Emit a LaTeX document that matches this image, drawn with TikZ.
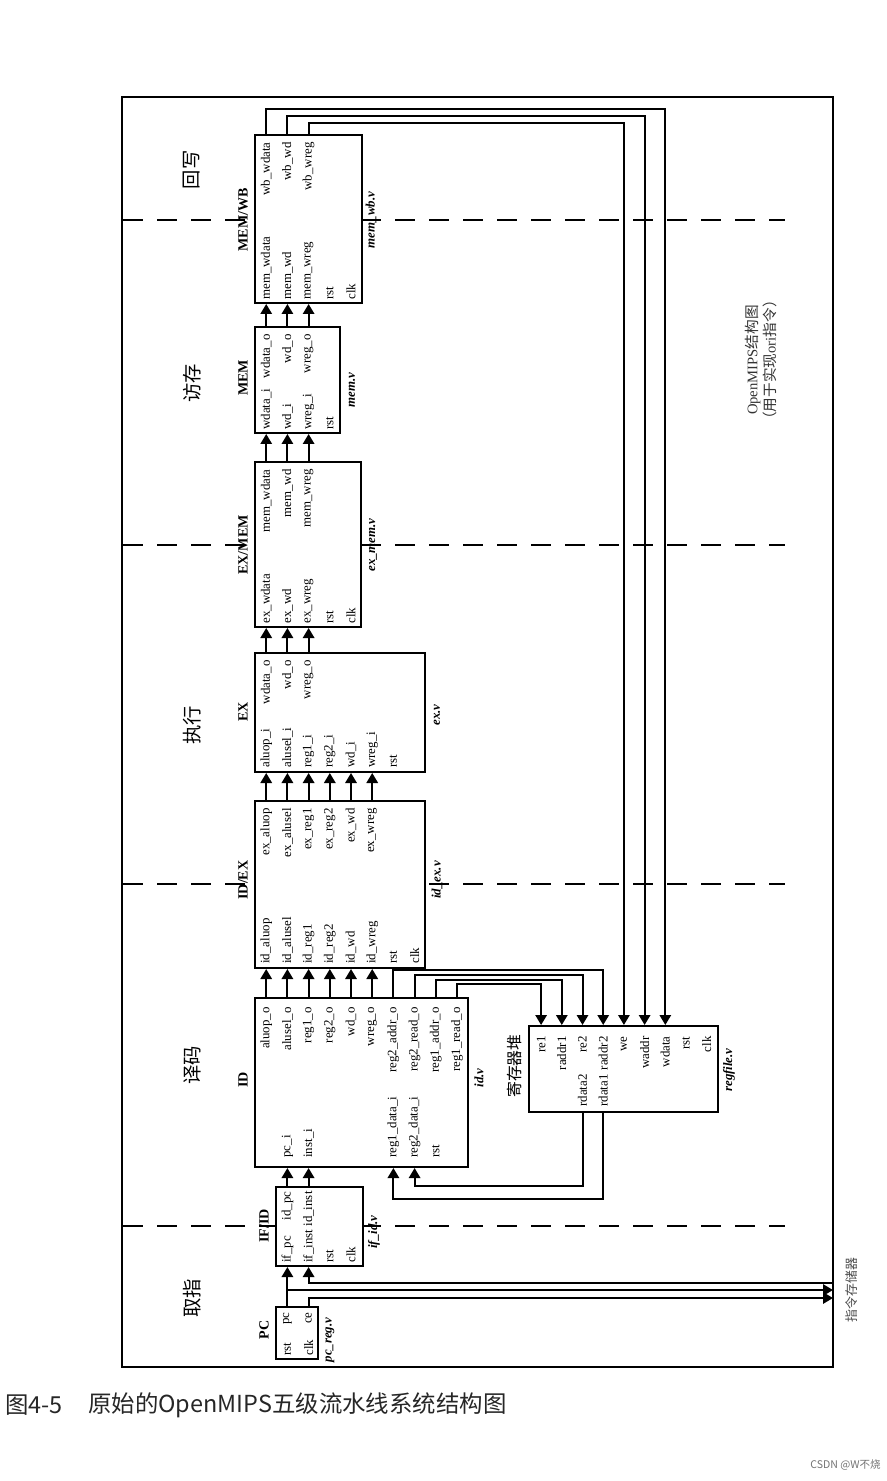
\documentclass[tikz,border=0pt]{standalone}
\usepackage{fontspec}
\setmainfont{Liberation Serif}
\newfontfamily\cjk{Noto Sans CJK SC}
\usetikzlibrary{arrows.meta,fit}

\begin{document}
\begin{tikzpicture}[x=0.3mm, y=-0.3mm,
  blk/.style={draw, line width=1.7pt, fill=white, inner sep=0pt},
  frm/.style={draw, line width=1.6pt, inner sep=0pt},
  wire/.style={line width=1.7pt},
  arr/.style={wire, -{Triangle[length=3mm, width=3.4mm]}},
  stg/.style={line width=1.7pt, dash pattern=on 6mm off 4.2mm},
  port/.style={rotate=90, inner sep=1pt, font=\fontsize{11}{12}\selectfont},
  portin/.style={port, anchor=west},
  portout/.style={port, anchor=east},
  ttl/.style={rotate=90, inner sep=1pt, font=\fontsize{12}{13}\selectfont\bfseries},
  vfile/.style={rotate=90, inner sep=1pt, font=\fontsize{11}{12}\selectfont\bfseries\itshape},
  phasename/.style={rotate=90, font=\cjk\fontsize{16.5}{18}\selectfont}
]
\useasboundingbox (0,0) rectangle (887,1481);
\node[frm, fit={(122,97) (833,1367)}] (frame) {};

% pipeline stage borders
\foreach \y in {220,545,884,1226}
  \draw[stg] (123,\y) -- (785,\y);

\node[phasename] (ph-wb)  at (192,170)  {回写};
\node[phasename] (ph-mem) at (192,383)  {访存};
\node[phasename] (ph-ex)  at (192,725)  {执行};
\node[phasename] (ph-id)  at (192,1065) {译码};
\node[phasename] (ph-if)  at (192,1298) {取指};

% modules
\node[blk, fit={(255,135) (362,303)}]   (memwb) {};
\node[blk, fit={(255,327) (340,433)}]   (mem)   {};
\node[blk, fit={(255,462) (361,627)}]   (exmem) {};
\node[blk, fit={(255,653) (425,772)}]   (ex)    {};
\node[blk, fit={(255,801) (425,968)}]   (idex)  {};
\node[blk, fit={(255,998) (468,1167)}]  (id)    {};
\node[blk, fit={(529,1026) (718,1112)}] (rf)    {};
\node[blk, fit={(276,1187) (363,1266)}] (ifid)  {};
\node[blk, fit={(276,1307) (318,1359)}] (pc)    {};

\node[ttl] (t-memwb) at (243,220)  {MEM/WB};
\node[ttl] (t-mem)   at (243,378)  {MEM};
\node[ttl] (t-exmem) at (243,545)  {EX/MEM};
\node[ttl] (t-ex)    at (243,712)  {EX};
\node[ttl] (t-idex)  at (243,880)  {ID/EX};
\node[ttl] (t-id)    at (243,1080) {ID};
\node[ttl] (t-ifid)  at (264,1226) {IF/ID};
\node[ttl] (t-pc)    at (264,1330) {PC};
\node[phasename, font=\cjk\fontsize{13.5}{15}\selectfont] (t-rf) at (514,1066) {寄存器堆};

\node[vfile] (f-memwb) at (371,220)  {mem\_wb.v};
\node[vfile] (f-mem)   at (352,390)  {mem.v};
\node[vfile] (f-exmem) at (373,545)  {ex\_mem.v};
\node[vfile] (f-ex)    at (437,715)  {ex.v};
\node[vfile] (f-idex)  at (437,880)  {id\_ex.v};
\node[vfile] (f-id)    at (479,1078) {id.v};
\node[vfile] (f-rf)    at (729,1070) {regfile.v};
\node[vfile] (f-ifid)  at (374,1232) {if\_id.v};
\node[vfile] (f-pc)    at (330,1340) {pc\_reg.v};

% ports
\foreach \t [count=\i] in {mem\_wdata, mem\_wd, mem\_wreg, rst, clk}
  \node[portin] (memwb-i\i) at ({245+21.2*\i},301) {\t};
\foreach \t [count=\i] in {wb\_wdata, wb\_wd, wb\_wreg}
  \node[portout] (memwb-o\i) at ({245+21.2*\i},141) {\t};
\foreach \t [count=\i] in {wdata\_i, wd\_i, wreg\_i, rst}
  \node[portin] (mem-i\i) at ({245+21.2*\i},431) {\t};
\foreach \t [count=\i] in {wdata\_o, wd\_o, wreg\_o}
  \node[portout] (mem-o\i) at ({245+21.2*\i},333) {\t};
\foreach \t [count=\i] in {ex\_wdata, ex\_wd, ex\_wreg, rst, clk}
  \node[portin] (exmem-i\i) at ({245+21.2*\i},625) {\t};
\foreach \t [count=\i] in {mem\_wdata, mem\_wd, mem\_wreg}
  \node[portout] (exmem-o\i) at ({245+21.2*\i},468) {\t};
\foreach \t [count=\i] in {aluop\_i, alusel\_i, reg1\_i, reg2\_i, wd\_i, wreg\_i, rst}
  \node[portin] (ex-i\i) at ({245+21.2*\i},769) {\t};
\foreach \t [count=\i] in {wdata\_o, wd\_o, wreg\_o}
  \node[portout] (ex-o\i) at ({245+21.2*\i},659) {\t};
\foreach \t [count=\i] in {id\_aluop, id\_alusel, id\_reg1, id\_reg2, id\_wd, id\_wreg, rst, clk}
  \node[portin] (idex-i\i) at ({245+21.2*\i},965) {\t};
\foreach \t [count=\i] in {ex\_aluop, ex\_alusel, ex\_reg1, ex\_reg2, ex\_wd, ex\_wreg}
  \node[portout] (idex-o\i) at ({245+21.2*\i},807) {\t};
\foreach \t [count=\i] in {aluop\_o, alusel\_o, reg1\_o, reg2\_o, wd\_o, wreg\_o, reg2\_addr\_o, reg2\_read\_o, reg1\_addr\_o, reg1\_read\_o}
  \node[portout] (id-o\i) at ({245+21.2*\i},1006) {\t};
\foreach \t/\c [count=\i] in {pc\_i/2, inst\_i/3, reg1\_data\_i/7, reg2\_data\_i/8, rst/9}
  \node[portin] (id-i\i) at ({245+21.2*\c},1159) {\t};
\foreach \t [count=\i] in {re1, raddr1, re2, raddr2, we, waddr, wdata, rst, clk}
  \node[portout] (rf-i\i) at ({520.4+20.7*\i},1035) {\t};
\foreach \t/\c [count=\i] in {rdata2/3, rdata1/4}
  \node[portin] (rf-o\i) at ({520.4+20.7*\c},1108) {\t};
\foreach \t [count=\i] in {if\_pc, if\_inst, rst, clk}
  \node[portin] (ifid-i\i) at ({266.2+21.2*\i},1264) {\t};
\foreach \t [count=\i] in {id\_pc, id\_inst}
  \node[portout] (ifid-o\i) at ({266.2+21.2*\i},1190) {\t};
\foreach \t [count=\i] in {rst, clk}
  \node[portin] (pc-i\i) at ({266.2+21.2*\i},1357) {\t};
\foreach \t [count=\i] in {pc, ce}
  \node[portout] (pc-o\i) at ({266.2+21.2*\i},1311) {\t};

% pipeline flow
\foreach \i in {1,2,3} {
  \draw[arr] (mem-o\i |- mem.north) -- (mem-o\i |- memwb.south);
  \draw[arr] (exmem-o\i |- exmem.north) -- (exmem-o\i |- mem.south);
  \draw[arr] (ex-o\i |- ex.north) -- (ex-o\i |- exmem.south);
}
\foreach \i in {1,...,6} {
  \draw[arr] (idex-o\i |- idex.north) -- (idex-o\i |- ex.south);
  \draw[arr] (id-o\i |- id.north) -- (id-o\i |- idex.south);
}

% write back to regfile
\draw[arr] (memwb-o1 |- memwb.north) -- ++(0,-25) -| (rf-i7 |- rf.north);
\draw[arr] (memwb-o2 |- memwb.north) -- ++(0,-18) -| (rf-i6 |- rf.north);
\draw[arr] (memwb-o3 |- memwb.north) -- ++(0,-11) -| (rf-i5 |- rf.north);

% register reads
\draw[arr] (id-o7 |- id.north)  -- ++(0,-27) -| (rf-i4 |- rf.north);
\draw[arr] (id-o8 |- id.north)  -- ++(0,-22) -| (rf-i3 |- rf.north);
\draw[arr] (id-o9 |- id.north)  -- ++(0,-17) -| (rf-i2 |- rf.north);
\draw[arr] (id-o10 |- id.north) -- ++(0,-13) -| (rf-i1 |- rf.north);
\draw[arr] (rf-o1 |- rf.south) -- ++(0,73) -| (id-i4 |- id.south);
\draw[arr] (rf-o2 |- rf.south) -- ++(0,86) -| (id-i3 |- id.south);

% fetch
\draw[arr] (ifid-o1 |- ifid.north) -- (ifid-o1 |- id.south);
\draw[arr] (ifid-o2 |- ifid.north) -- (ifid-o2 |- id.south);
\draw[arr] (pc-o1 |- pc.north) -- (pc-o1 |- ifid.south);
\coordinate (im-inst) at (833,1283);
\coordinate (im-pc)   at (833,1290);
\coordinate (im-ce)   at (833,1298);
\draw[arr] (pc-o1 |- im-pc) -- (im-pc);
\draw[arr] (pc-o2 |- pc.north) |- (im-ce);
\draw[arr] (im-inst) -| (ifid-i2 |- ifid.south);

\node[rotate=90, font=\cjk\fontsize{11}{13}\selectfont, text=black!70] (imem) at (852,1290) {指令存储器};
\node[rotate=90, align=center, font=\fontsize{12.5}{15.5}\selectfont, text=black!80] (note) at (761,360)
  {OpenMIPS{\cjk 结构图}\\{\cjk （用于实现}ori{\cjk 指令）}};

% caption
\node[anchor=west, inner sep=0pt, font=\cjk\fontsize{20}{22}\selectfont, text=black!85] (capnum) at (5,1405) {图4-5};
\node[anchor=west, inner sep=0pt, font=\cjk\fontsize{20}{22}\selectfont, text=black!85] (captext) at (88,1405) {原始的OpenMIPS五级流水线系统结构图};
\node[anchor=east, inner sep=0pt, font=\cjk\fontsize{9}{10}\selectfont, text=black!55] (mark) at (881,1465) {CSDN @W不烧};
\end{tikzpicture}
\end{document}
